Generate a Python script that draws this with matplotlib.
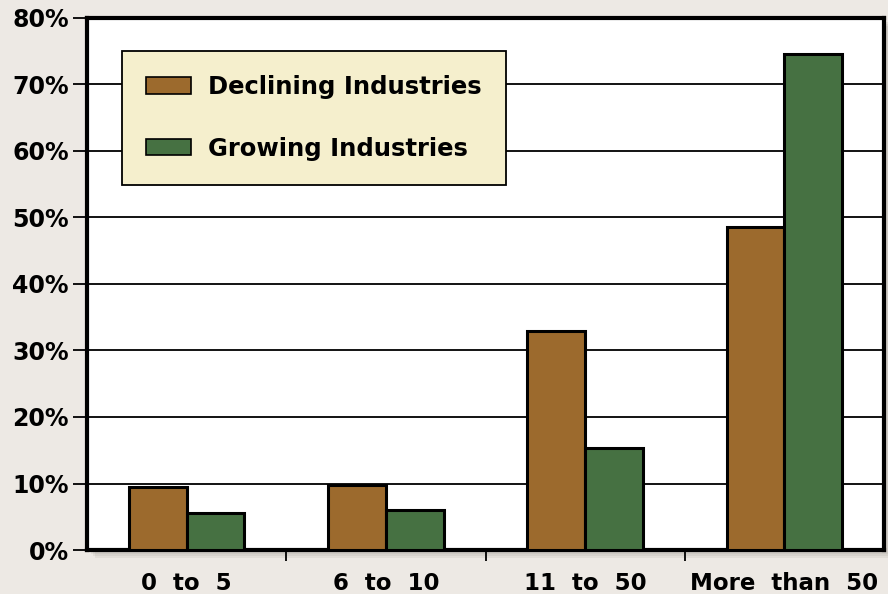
import matplotlib
matplotlib.use("Agg")
import matplotlib.pyplot as plt
from matplotlib.patches import Rectangle, Patch
import numpy as np

categories = ["0  to  5", "6  to  10", "11  to  50", "More  than  50"]
declining = [9.5, 9.8, 33.0, 48.5]
growing = [5.5, 6.0, 15.3, 74.5]
yticks = [0, 10, 20, 30, 40, 50, 60, 70, 80]
ytick_labels = ["0%", "10%", "20%", "30%", "40%", "50%", "60%", "70%", "80%"]
series_names = ["Declining Industries", "Growing Industries"]

brown = "#9C6A2D"
green = "#467142"
bg = "#EDE9E4"

plt.rcParams['font.family'] = ['DejaVu Sans']
plt.rcParams['font.weight'] = 'bold'

fig = plt.figure(figsize=(8.88, 5.94), dpi=100, facecolor=bg)
left, bottom, right, top = 0.098, 0.074, 0.9955, 0.970
ax = fig.add_axes([left, bottom, right - left, top - bottom])

# drop shadow
for i, a in enumerate([0.10, 0.10, 0.10, 0.10]):
    off = (i + 1) * 2.0
    fig.patches.append(Rectangle((left + off / 888, bottom - off / 594), right - left, top - bottom,
                                 transform=fig.transFigure, facecolor="#7a746c", alpha=a,
                                 edgecolor="none", zorder=-5))

x = np.arange(len(categories))
w = 0.29
ax.bar(x - w / 2, declining, w, color=brown, edgecolor="black", linewidth=2.2, zorder=3,
       label=series_names[0])
ax.bar(x + w / 2, growing, w, color=green, edgecolor="black", linewidth=2.2, zorder=3,
       label=series_names[1])

ax.set_xlim(-0.5, 3.5)
ax.set_ylim(0, 80)
ax.set_yticks(yticks)
ax.set_yticklabels(ytick_labels, fontsize=17, fontweight='bold')
ax.yaxis.grid(True, color="black", linewidth=1.3, zorder=1)
ax.set_axisbelow(True)
ax.tick_params(axis='y', length=10, width=1.3, pad=3)

ax.set_xticks(x)
ax.set_xticklabels(categories, fontsize=16.5, fontweight='bold')
ax.set_xticks([0.5, 1.5, 2.5], minor=True)
ax.tick_params(axis='x', which='major', length=0, pad=16)
ax.tick_params(axis='x', which='minor', length=8, width=1.3)

for s in ax.spines.values():
    s.set_linewidth(3)
    s.set_color("black")

leg = ax.legend(handles=[Patch(facecolor=brown, edgecolor="black", linewidth=1.2, label=series_names[0]),
                         Patch(facecolor=green, edgecolor="black", linewidth=1.2, label=series_names[1])],
                loc="upper left", bbox_to_anchor=(0.044, 0.938),
                prop={'weight': 'bold', 'size': 17.5},
                frameon=True, fancybox=False, framealpha=1, facecolor="#F5EFCD",
                edgecolor="black", handlelength=1.85, handleheight=0.65, labelspacing=1.55,
                borderpad=1.0, handletextpad=0.7, borderaxespad=0)
leg.get_frame().set_linewidth(1.3)
leg.set_zorder(5)

fig.savefig("out.png", dpi=100, facecolor=bg)
